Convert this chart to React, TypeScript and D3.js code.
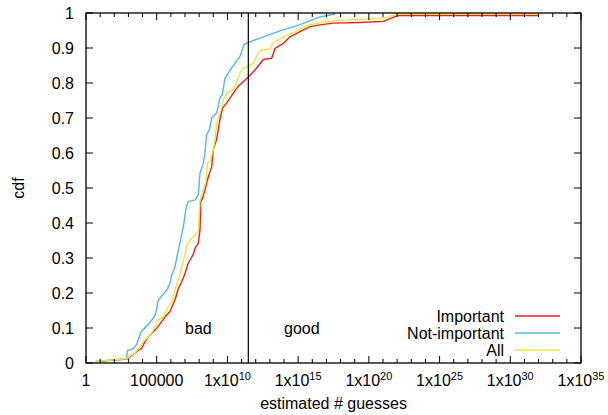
import React from "react";
import * as d3 from "d3";

// log10(estimated # guesses) and cdf values
const importantLog10 = [0.64, 2.88, 3.11, 3.46, 3.70, 3.94, 4.17, 4.41, 4.65, 5.0, 5.35, 5.59, 5.94, 6.29, 6.53, 6.77, 7.0, 7.23, 7.59, 7.71, 7.94, 8.06, 8.11, 8.25, 8.41, 8.65, 8.89, 9.0, 9.24, 9.35, 9.47, 9.66, 9.95, 10.18, 10.42, 10.77, 11.48, 11.95, 12.54, 13.13, 13.37, 13.95, 14.42, 15.13, 15.84, 16.55, 17.49, 19.37, 21.02, 22.08, 32.0];
const importantCdf = [0.004, 0.011, 0.018, 0.028, 0.037, 0.042, 0.061, 0.075, 0.085, 0.099, 0.118, 0.132, 0.147, 0.18, 0.213, 0.232, 0.256, 0.285, 0.311, 0.328, 0.342, 0.38, 0.461, 0.471, 0.494, 0.532, 0.561, 0.609, 0.64, 0.666, 0.695, 0.729, 0.743, 0.757, 0.771, 0.791, 0.817, 0.837, 0.867, 0.871, 0.899, 0.913, 0.932, 0.947, 0.961, 0.966, 0.971, 0.973, 0.976, 0.993, 0.993];

const notImportantLog10 = [0.64, 2.88, 2.92, 3.23, 3.46, 3.58, 3.89, 4.17, 4.41, 4.76, 4.93, 5.11, 5.52, 5.75, 5.94, 6.06, 6.29, 6.53, 6.88, 7.07, 7.23, 7.71, 7.94, 8.06, 8.29, 8.41, 8.53, 8.72, 8.89, 9.24, 9.47, 9.64, 9.83, 10.3, 10.89, 11.17, 11.48, 13.72, 15.13, 16.55, 17.61];
const notImportantCdf = [0.004, 0.013, 0.035, 0.039, 0.047, 0.053, 0.089, 0.101, 0.111, 0.128, 0.142, 0.18, 0.199, 0.211, 0.228, 0.251, 0.275, 0.323, 0.389, 0.442, 0.461, 0.466, 0.48, 0.542, 0.571, 0.599, 0.652, 0.666, 0.7, 0.714, 0.757, 0.767, 0.814, 0.843, 0.876, 0.91, 0.916, 0.949, 0.967, 0.989, 0.997];

const allLog10 = [0.64, 2.88, 3.11, 3.46, 3.82, 3.94, 4.17, 4.53, 4.76, 5.11, 5.47, 5.82, 6.06, 6.29, 6.53, 6.77, 7.0, 7.12, 7.35, 7.71, 7.94, 8.06, 8.29, 8.48, 8.58, 8.77, 9.0, 9.12, 9.24, 9.59, 9.71, 9.95, 10.42, 10.65, 10.89, 11.12, 11.48, 11.83, 12.18, 12.42, 13.01, 13.24, 13.95, 14.9, 15.72, 16.55, 17.96, 21.02, 21.97, 32.0];
const allCdf = [0.004, 0.013, 0.02, 0.029, 0.047, 0.056, 0.066, 0.08, 0.094, 0.123, 0.132, 0.161, 0.175, 0.209, 0.237, 0.275, 0.309, 0.337, 0.351, 0.366, 0.375, 0.466, 0.494, 0.518, 0.571, 0.575, 0.609, 0.637, 0.686, 0.729, 0.752, 0.771, 0.781, 0.8, 0.829, 0.843, 0.848, 0.857, 0.886, 0.895, 0.897, 0.916, 0.931, 0.949, 0.966, 0.972, 0.979, 0.985, 0.996, 0.997];

const seriesNames = ["Important", "Not-important", "All"];
const seriesColors = ["#e4231b", "#56b4e9", "#f0e442"];
const xTickExponents = [0, 5, 10, 15, 20, 25, 30, 35];
const yTicks = [0, 0.1, 0.2, 0.3, 0.4, 0.5, 0.6, 0.7, 0.8, 0.9, 1];
const thresholdGuesses = 3e11;
const regionLabels = [
  { text: "bad", x: 1e7, y: 0.1 },
  { text: "good", x: 1e14, y: 0.1 },
];

const W = 608;
const H = 415;
const M = { left: 86, right: 581, top: 13, bottom: 363 };
const FONT = "'Liberation Sans', Arial, Helvetica, sans-serif";
const FS = 16;

export default function App() {
  const x = d3.scaleLog().domain([1, 1e35]).range([M.left, M.right]);
  const y = d3.scaleLinear().domain([0, 1]).range([M.bottom, M.top]);

  const series = [
    { name: seriesNames[0], color: seriesColors[0], lx: importantLog10, cdf: importantCdf },
    { name: seriesNames[1], color: seriesColors[1], lx: notImportantLog10, cdf: notImportantCdf },
    { name: seriesNames[2], color: seriesColors[2], lx: allLog10, cdf: allCdf },
  ];

  const line = d3
    .line<[number, number]>()
    .x((d) => x(Math.pow(10, d[0])))
    .y((d) => y(d[1]));

  const minorExps = d3.range(0, 36);

  return (
    <svg
      width={W}
      height={H}
      style={{ position: "absolute", left: 0, top: 0, background: "#fff" }}
      fontFamily={FONT}
    >
      <rect x={0} y={0} width={W} height={H} fill="#fff" />
      {/* curves */}
      <g fill="none" strokeWidth={1.4} strokeLinejoin="round">
        {series.map((s) => (
          <path
            key={s.name}
            d={line(s.lx.map((v, i) => [v, s.cdf[i]] as [number, number])) || ""}
            stroke={s.color}
          />
        ))}
      </g>
      {/* threshold line */}
      <line
        x1={x(thresholdGuesses)}
        x2={x(thresholdGuesses)}
        y1={y(0)}
        y2={y(1)}
        stroke="#000"
        strokeWidth={1.2}
      />
      {/* x ticks */}
      <g stroke="#000" strokeWidth={1}>
        {minorExps.map((e) => {
          const major = e % 5 === 0;
          const len = major ? 7 : 4;
          const px = x(Math.pow(10, e));
          return (
            <g key={e}>
              <line x1={px} x2={px} y1={M.bottom} y2={M.bottom - len} />
              <line x1={px} x2={px} y1={M.top} y2={M.top + len} />
            </g>
          );
        })}
        {yTicks.map((t) => (
          <g key={t}>
            <line x1={M.left} x2={M.left + 7} y1={y(t)} y2={y(t)} />
            <line x1={M.right} x2={M.right - 7} y1={y(t)} y2={y(t)} />
          </g>
        ))}
      </g>
      {/* border */}
      <rect
        x={M.left}
        y={M.top}
        width={M.right - M.left}
        height={M.bottom - M.top}
        fill="none"
        stroke="#000"
        strokeWidth={1.3}
      />
      {/* y tick labels */}
      <g fontSize={FS} fill="#000" textAnchor="end">
        {yTicks.map((t) => (
          <text key={t} x={M.left - 12} y={y(t)} dy="0.35em">
            {d3.format("")(t)}
          </text>
        ))}
      </g>
      {/* x tick labels */}
      <g fontSize={FS} fill="#000" textAnchor="middle">
        {xTickExponents.map((e) => {
          const px = x(Math.pow(10, e));
          let content: React.ReactNode;
          if (e === 0) content = "1";
          else if (e === 5) content = "100000";
          else
            content = (
              <>
                <tspan>1x10</tspan>
                <tspan fontSize={11} dy={-6}>
                  {e}
                </tspan>
              </>
            );
          return (
            <text key={e} x={px} y={386}>
              {content}
            </text>
          );
        })}
      </g>
      {/* axis titles */}
      <text x={(M.left + M.right) / 2} y={409} fontSize={FS} textAnchor="middle">
        estimated # guesses
      </text>
      <text
        transform={`translate(24,${(M.top + M.bottom) / 2}) rotate(-90)`}
        fontSize={FS}
        textAnchor="middle"
      >
        cdf
      </text>
      {/* region labels */}
      {regionLabels.map((l) => (
        <text key={l.text} x={x(l.x)} y={y(l.y)} dy="0.35em" fontSize={FS}>
          {l.text}
        </text>
      ))}
      {/* legend */}
      {series.map((s, i) => {
        const ly = 316 + i * 17;
        return (
          <g key={s.name}>
            <text x={504} y={ly} dy="0.35em" fontSize={FS} textAnchor="end">
              {s.name}
            </text>
            <line x1={515} x2={560} y1={ly} y2={ly} stroke={s.color} strokeWidth={1.4} />
          </g>
        );
      })}
    </svg>
  );
}
